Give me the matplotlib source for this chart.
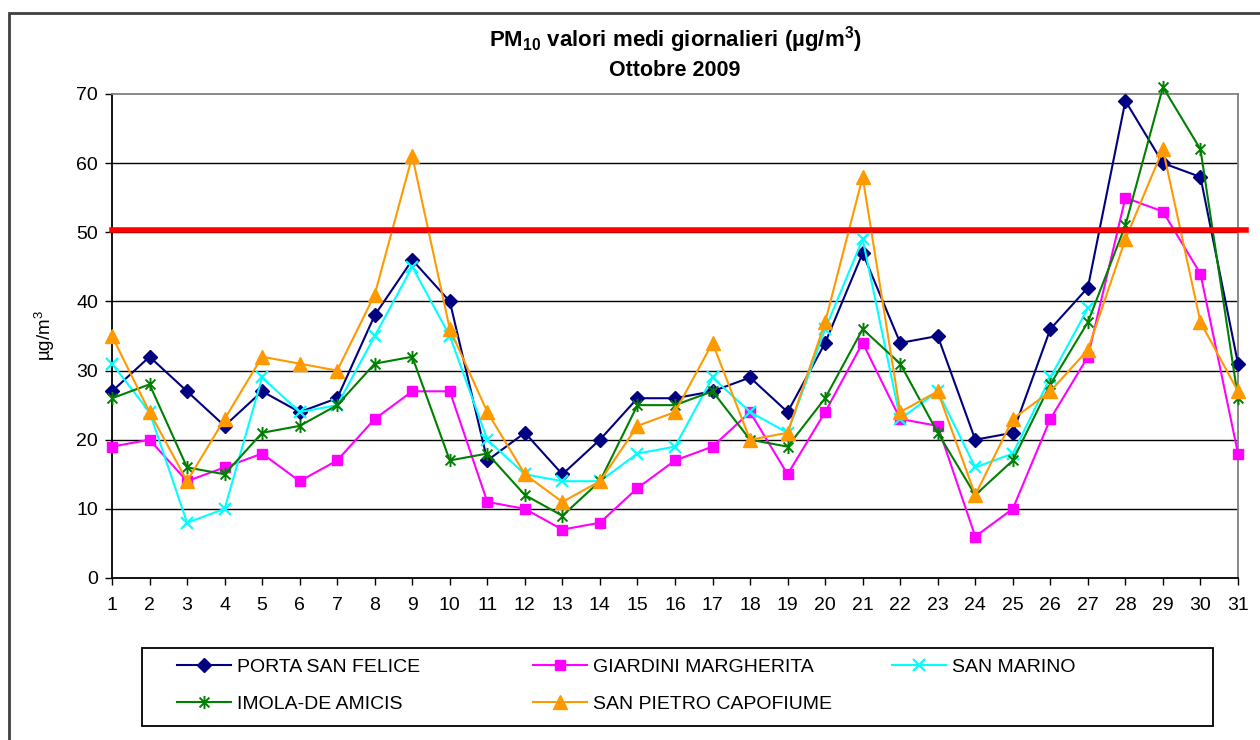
import numpy as np
import matplotlib
matplotlib.use("Agg")
import matplotlib.pyplot as plt
from matplotlib.path import Path
from matplotlib.patches import Rectangle

plt.rcParams['font.family'] = ['Liberation Sans', 'DejaVu Sans']
plt.rcParams['mathtext.fontset'] = 'custom'
plt.rcParams['mathtext.rm'] = 'Liberation Sans'
plt.rcParams['mathtext.it'] = 'Liberation Sans:italic'
plt.rcParams['mathtext.bf'] = 'Liberation Sans:bold'

days = list(range(1, 32))
nan = np.nan
porta_san_felice = [27, 32, 27, 22, 27, 24, 26, 38, 46, 40, 17, 21, 15, 20, 26, 26, 27, 29, 24, 34,
                    47, 34, 35, 20, 21, 36, 42, 69, 60, 58, 31]
giardini_margherita = [19, 20, 14, 16, 18, 14, 17, 23, 27, 27, 11, 10, 7, 8, 13, 17, 19, 24, 15, 24,
                       34, 23, 22, 6, 10, 23, 32, 55, 53, 44, 18]
san_marino = [31, 24, 8, 10, 29, 24, 25, 35, 45, 35, 20, 15, 14, 14, 18, 19, 29, 24, 21, 36,
              49, 23, 27, 16, 18, 29, 39, nan, nan, nan, nan]
imola_de_amicis = [26, 28, 16, 15, 21, 22, 25, 31, 32, 17, 18, 12, 9, 14, 25, 25, 27, 20, 19, 26,
                   36, 31, 21, 12, 17, 28, 37, 51, 71, 62, 26]
san_pietro_capofiume = [35, 24, 14, 23, 32, 31, 30, 41, 61, 36, 24, 15, 11, 14, 22, 24, 34, 20, 21, 37,
                        58, 24, 27, 12, 23, 27, 33, 49, 62, 37, 27]
limit_value = 50.3

series_names = ["PORTA SAN FELICE", "GIARDINI MARGHERITA", "SAN MARINO",
                "IMOLA-DE AMICIS", "SAN PIETRO CAPOFIUME"]

star = Path([(0, -1), (0, 1), (-0.75, -0.75), (0.75, 0.75), (-0.75, 0.75), (0.75, -0.75)],
            [Path.MOVETO, Path.LINETO, Path.MOVETO, Path.LINETO, Path.MOVETO, Path.LINETO])

W, H = 1260, 740
fig = plt.figure(figsize=(W / 100, H / 100), dpi=100)
ax = fig.add_axes([112 / W, 1 - 578 / H, (1238 - 112) / W, (578 - 94) / H])

styles = [
    dict(color='#000080', marker='D', ms=7.5, mfc='#000080', mec='#000080'),
    dict(color='#FF00FF', marker='s', ms=7.5, mfc='#FF00FF', mec='#FF00FF'),
    dict(color='#00FFFF', marker='x', ms=9, mew=1.6),
    dict(color='#008000', marker=star, ms=9.5, mew=1.4),
    dict(color='#FF9900', marker='^', ms=10.5, mfc='#FF9900', mec='#FF9900'),
]
data = [porta_san_felice, giardini_margherita, san_marino, imola_de_amicis, san_pietro_capofiume]

handles = []
for name, vals, st in zip(series_names, data, styles):
    h, = ax.plot(days, vals, lw=1.5, label=name, clip_on=False, zorder=3, **st)
    handles.append(h)

ax.axhline(limit_value, xmin=0, xmax=1.007, color='#FF0000', lw=4, clip_on=False, zorder=4)

ax.set_xlim(1, 31)
ax.set_ylim(0, 70)
ax.set_xticks(days)
ax.set_yticks(range(0, 71, 10))
for y in range(10, 70, 10):
    ax.axhline(y, color='black', lw=1, zorder=1)
ax.tick_params(axis='both', direction='out', length=5, width=1, labelsize=14, colors='black')
ax.tick_params(axis='x', pad=9)
ax.tick_params(axis='y', pad=5)
ax.spines['left'].set_color('black')
ax.spines['bottom'].set_color('black')
ax.spines['top'].set_color('#808080')
ax.spines['right'].set_color('#808080')
for s in ax.spines.values():
    s.set_linewidth(1.3)

ax.set_ylabel('µg/m$^3$', fontsize=13.5, labelpad=14)

fig.text(675 / W, 1 - 40 / H, r'PM$_{\mathbf{10}}$ valori medi giornalieri (µg/m$^{\mathbf{3}}$)',
         ha='center', va='center', fontsize=16, fontweight='bold')
fig.text(675 / W, 1 - 70 / H, 'Ottobre 2009', ha='center', va='center', fontsize=15.5, fontweight='bold')

# legend frame
fig.patches.append(Rectangle((142 / W, 1 - 726 / H), (1213 - 142) / W, (726 - 648) / H,
                             transform=fig.transFigure, fill=False, edgecolor='black', lw=1.3))
# legend columns (row-major order as in the reference)
columns = [[0, 3], [1, 4], [2]]
col_x = [177, 533, 892]
for idx, x0 in zip(columns, col_x):
    fig.legend([handles[i] for i in idx], [series_names[i] for i in idx],
               loc='upper left', bbox_to_anchor=(x0 / W, 1 - 658 / H),
               fontsize=14, frameon=False, borderpad=0, borderaxespad=0,
               handlelength=2.8, handletextpad=0.3, labelspacing=1.02)

fig.patches.append(Rectangle((9 / W, -0.05), 1.1, 1 - 13 / H + 0.05, transform=fig.transFigure,
                             fill=False, edgecolor='#404040', lw=2))

fig.savefig('out.png', dpi=100)
